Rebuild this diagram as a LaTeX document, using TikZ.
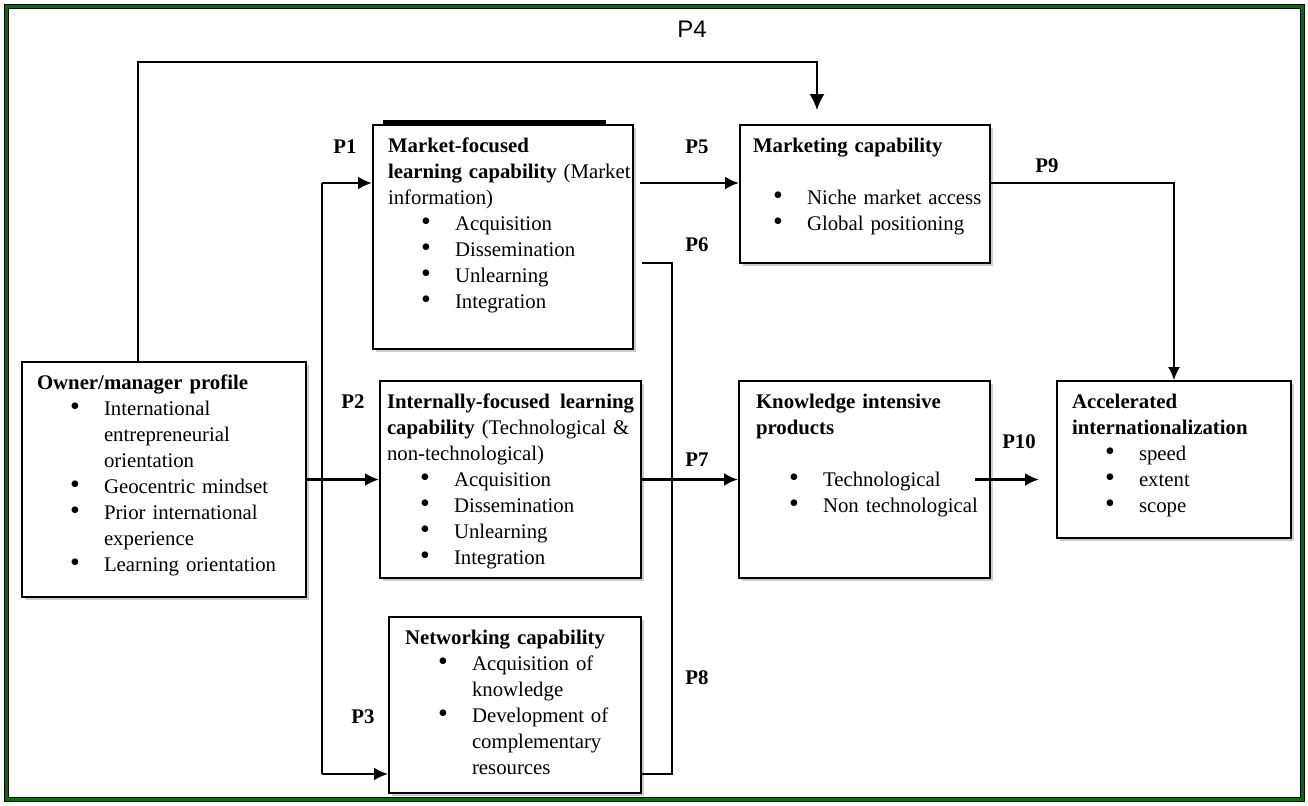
\documentclass[tikz,border=0pt]{standalone}
\usepackage{fontspec}
\setmainfont{Liberation Serif}
\newfontfamily\plainsans{Liberation Sans}
\usetikzlibrary{positioning,arrows.meta,shadows}
\setlength{\parindent}{0pt}
\definecolor{framegreen}{RGB}{0,112,0}
\newcommand{\boxfont}{\fontsize{10.4}{13}\selectfont}
\newcommand{\bigdot}{\raisebox{-0.4pt}{\fontsize{14}{13}\selectfont\textbullet}}
\newcommand{\bitem}[2][33.5pt]{\makebox[#1][r]{\bigdot\hspace{12pt}}\mbox{#2}}
\newcommand{\bcont}[1]{\hspace*{33.5pt}\mbox{#1}}
\newcommand{\boxtext}[2]{\vbox to #1{\rule{0pt}{9.5pt}#2\vfill}}

\begin{document}
\begin{tikzpicture}[
  x=0.5pt, y=-0.5pt,
  cbox/.style={draw,line width=1pt,fill=white,anchor=north west,align=left,
    inner xsep=7.5pt,inner ysep=4pt,font=\boxfont,
    drop shadow={shadow xshift=1.4pt,shadow yshift=-1.4pt,opacity=.4}},
  plab/.style={font=\boxfont\bfseries,inner sep=0pt},
  arr/.style={line width=1.2pt,-{Latex[length=7pt,width=6.5pt]}},
  thinarr/.style={line width=0.75pt,-{Latex[length=6.5pt,width=6pt]}},
  thinline/.style={line width=0.7pt}
]
\useasboundingbox (0,0) rectangle (1308,805);
\draw[line width=2.5pt] (6,6) rectangle (1302,799);
\draw[framegreen,line width=1.5pt] (6,6) rectangle (1302,799);

% boxes
\node[cbox,text width=127pt] (owner) at (21,361) {\boxtext{109.5pt}{%
  \textbf{Owner/manager profile}\\
  \bitem{International}\\
  \bcont{entrepreneurial}\\
  \bcont{orientation}\\
  \bitem{Geocentric mindset}\\
  \bitem{Prior international}\\
  \bcont{experience}\\
  \bitem{Learning orientation}}};
\node[cbox,text width=115pt] (market) at (372,124) {\boxtext{104pt}{%
  \textbf{Market-focused}\\
  \mbox{\textbf{learning capability} (Market}\\
  information)\\
  \bitem{Acquisition}\\
  \bitem{Dissemination}\\
  \bitem{Unlearning}\\
  \bitem{Integration}}};
\node[cbox,text width=123.5pt,inner xsep=3.5pt] (intern) at (379,380) {\boxtext{90.5pt}{%
  \textbf{Internally-focused\hfill learning}\\
  \mbox{\textbf{capability} (Technological \&}\\
  non-technological)\\
  \bitem{Acquisition}\\
  \bitem{Dissemination}\\
  \bitem{Unlearning}\\
  \bitem{Integration}}};
\node[cbox,text width=110pt,inner xsep=8pt] (network) at (388,616) {\boxtext{80pt}{%
  \textbf{Networking capability}\\
  \bitem{Acquisition of}\\
  \bcont{knowledge}\\
  \bitem{Development of}\\
  \bcont{complementary}\\
  \bcont{resources}}};
\node[cbox,text width=112pt,inner xsep=6.5pt] (mkt) at (739,124) {\boxtext{61pt}{%
  \textbf{Marketing capability}\\[13pt]
  \bitem[27pt]{Niche market access}\\
  \bitem[27pt]{Global positioning}}};
\node[cbox,text width=108.5pt,inner xsep=8.5pt] (know) at (738,380) {\boxtext{90.5pt}{%
  \textbf{Knowledge intensive}\\
  \textbf{products}\\[13pt]
  \bitem{Technological}\\
  \bitem{Non technological}}};
\node[cbox,text width=102pt] (accel) at (1056,380) {\boxtext{70.5pt}{%
  \textbf{Accelerated}\\
  \textbf{internationalization}\\
  \bitem{speed}\\
  \bitem{extent}\\
  \bitem{scope}}};
\draw[line width=1.6pt] ([xshift=5.5pt,yshift=1pt]market.north west) -- ([xshift=-14pt,yshift=1pt]market.north east);

% labels
\node[font=\plainsans\fontsize{12}{13}\selectfont,inner sep=0pt] (p4lab) at (692,29) {P4};
\node[plab] (p1lab) at (345,147) {P1};
\node[plab] (p2lab) at (353,402) {P2};
\node[plab] (p3lab) at (363,717) {P3};
\node[plab] (p5lab) at (697,147) {P5};
\node[plab] (p6lab) at (697,245) {P6};
\node[plab] (p7lab) at (697,460) {P7};
\node[plab] (p8lab) at (697,678) {P8};
\node[plab] (p9lab) at (1047,166) {P9};
\node[plab] (p10lab) at (1019,442) {P10};

% helper points
\coordinate (lbus) at (322,0);
\coordinate (rbus) at (672,0);
\coordinate (top) at (0,62);
\coordinate (p4s) at ([xshift=58.5pt]owner.north west);
\coordinate (p4e) at ([xshift=39pt]mkt.north west);
\coordinate (p1e) at ([yshift=-29.5pt]market.north west);
\coordinate (p3e) at ([yshift=-34.5pt]network.west);
\coordinate (p5s) at ([xshift=3pt,yshift=-29.5pt]market.north east);
\coordinate (p5e) at ([yshift=-29.5pt]mkt.north west);
\coordinate (p6s) at ([xshift=4pt,yshift=-13pt]market.east);
\coordinate (p8s) at ([yshift=-34.5pt]network.east);
\coordinate (p9s) at ([yshift=-29.5pt]mkt.north east);
\coordinate (p10s) at ([xshift=-8pt]know.east);
\path (accel.west |- know.east) ++(-17,0) coordinate (p10e);

% connectors
\draw[line width=0.85pt,-{Latex[length=8pt,width=7.5pt]},shorten >=7pt] (p4s) |- (p4e |- top) -- (p4e);
\draw[thinline] (lbus |- p1e) -- (lbus |- p3e);
\draw[arr] (lbus |- p1e) -- (p1e);
\draw[arr] (owner.east) -- (intern.west);
\draw[arr] (lbus |- p3e) -- (p3e);
\draw[arr] (p5s) -- (p5e);
\draw[thinline] (p6s) -| (rbus |- p8s) -- (p8s);
\draw[arr] (intern.east) -- (know.west);
\draw[thinarr] (p9s) -| (accel.north);
\draw[arr] (p10s) -- (p10e);
\end{tikzpicture}
\end{document}
